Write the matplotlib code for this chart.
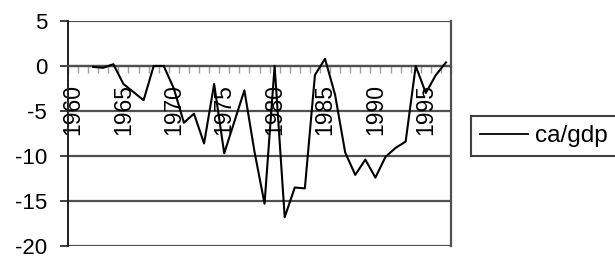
import numpy as np
import matplotlib
matplotlib.use('Agg')
import matplotlib.pyplot as plt
from matplotlib.ticker import FixedLocator

plt.rcParams['font.family'] = ['Liberation Sans', 'DejaVu Sans']
plt.rcParams['axes.unicode_minus'] = False

# current account / GDP, yearly values
years = list(range(1960, 1998))
ca_gdp = [np.nan, np.nan, -0.1, -0.2, 0.2, -2.0, -2.9, -3.8, 0.0, 0.0,
          -2.5, -6.3, -5.3, -8.6, -2.0, -9.7, -6.2, -2.7, -9.5, -15.3,
          0.0, -16.8, -13.5, -13.6, -1.0, 0.8, -3.2, -9.6, -12.1, -10.4,
          -12.4, -10.1, -9.1, -8.4, 0.0, -3.0, -1.0, 0.4]
y_ticks = [5, 0, -5, -10, -15, -20]
x_labels = [1960, 1965, 1970, 1975, 1980, 1985, 1990, 1995]

fig = plt.figure(figsize=(6.15, 2.6), dpi=100)
ax = fig.add_axes([68 / 615, 1 - 246 / 260, (451 - 68) / 615, (246 - 21) / 260])

grid_c = '#505050'
for v in y_ticks:
    ax.axhline(v, color=grid_c, lw=1.6, zorder=1)

line, = ax.plot(years, ca_gdp, color='black', lw=1.5, zorder=3, label='ca/gdp')

ax.set_xlim(1959.5, 1997.5)
ax.set_ylim(-20, 5)

# y axis
ax.yaxis.set_major_locator(FixedLocator(y_ticks))
ax.tick_params(axis='y', length=6, width=1.3, color='#303030', pad=9, labelsize=16)

# x axis sits on zero, category ticks between years
ax.spines['bottom'].set_position(('data', 0))
ax.spines['bottom'].set_color(grid_c)
ax.spines['bottom'].set_linewidth(1.6)
ax.xaxis.set_major_locator(FixedLocator(x_labels))
ax.xaxis.set_minor_locator(FixedLocator(np.arange(1959.5, 1998, 1.0)))
ax.tick_params(axis='x', which='major', length=0, pad=13, labelsize=16.5, labelrotation=90)
ax.tick_params(axis='x', which='minor', length=5, width=1, color='#a0a0a0')
for lab in ax.get_xticklabels():
    lab.set_va('top')

ax.spines['left'].set_color('#202020')
ax.spines['left'].set_linewidth(1.4)
ax.spines['right'].set_color(grid_c)
ax.spines['right'].set_linewidth(1.6)
ax.spines['top'].set_visible(False)

leg = fig.legend(handles=[line], loc='center left', bbox_to_anchor=(471 / 615, 1 - 136 / 260),
                 fontsize=17.5, handlelength=2.0, handletextpad=0.3, borderpad=0.35,
                 borderaxespad=0, fancybox=False, framealpha=1)
leg.get_frame().set_edgecolor('#404040')
leg.get_frame().set_linewidth(1.5)
leg.get_lines()[0].set_linewidth(1.3)

fig.savefig('out.png', dpi=100)
